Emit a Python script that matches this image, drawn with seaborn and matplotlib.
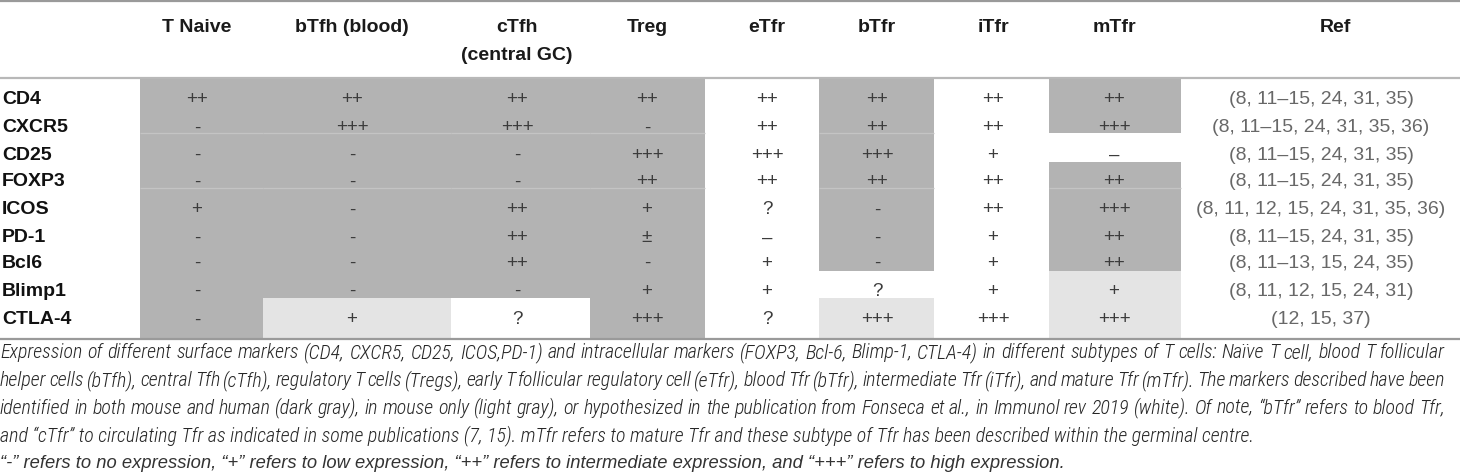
import numpy as np
import pandas as pd
import matplotlib
matplotlib.use("Agg")
import matplotlib.pyplot as plt
import seaborn as sns
from matplotlib import font_manager
from matplotlib.colors import ListedColormap

# ---- data ----
markers = ["CD4", "CXCR5", "CD25", "FOXP3", "ICOS", "PD-1", "Bcl6", "Blimp1", "CTLA-4"]
subsets = ["T Naive", "bTfh (blood)", "cTfh\n(central GC)", "Treg", "eTfr", "bTfr", "iTfr", "mTfr"]

t_naive = ["++", "-", "-", "-", "+", "-", "-", "-", "-"]
btfh = ["++", "+++", "-", "-", "-", "-", "-", "-", "+"]
ctfh = ["++", "+++", "-", "-", "++", "++", "++", "-", "?"]
treg = ["++", "-", "+++", "++", "+", "±", "-", "+", "+++"]
etfr = ["++", "++", "+++", "++", "?", "–", "+", "+", "?"]
btfr = ["++", "++", "+++", "++", "-", "-", "-", "?", "+++"]
itfr = ["++", "++", "+", "++", "++", "+", "+", "+", "+++"]
mtfr = ["++", "+++", "–", "++", "+++", "++", "++", "+", "+++"]

refs = ["(8, 11–15, 24, 31, 35)", "(8, 11–15, 24, 31, 35, 36)", "(8, 11–15, 24, 31, 35)",
        "(8, 11–15, 24, 31, 35)", "(8, 11, 12, 15, 24, 31, 35, 36)", "(8, 11–15, 24, 31, 35)",
        "(8, 11–13, 15, 24, 35)", "(8, 11, 12, 15, 24, 31)", "(12, 15, 37)"]

# evidence: 2 = mouse and human (dark gray), 1 = mouse only (light gray), 0 = hypothesized (white)
ev_t_naive = [2, 2, 2, 2, 2, 2, 2, 2, 2]
ev_btfh = [2, 2, 2, 2, 2, 2, 2, 2, 1]
ev_ctfh = [2, 2, 2, 2, 2, 2, 2, 2, 0]
ev_treg = [2, 2, 2, 2, 2, 2, 2, 2, 2]
ev_etfr = [0, 0, 0, 0, 0, 0, 0, 0, 0]
ev_btfr = [2, 2, 2, 2, 2, 2, 2, 0, 1]
ev_itfr = [0, 0, 0, 0, 0, 0, 0, 0, 0]
ev_mtfr = [2, 2, 0, 2, 2, 2, 2, 1, 1]

caption = [
    "Expression of different surface markers (CD4, CXCR5, CD25, ICOS,PD-1) and intracellular markers (FOXP3, Bcl-6, Blimp-1, CTLA-4) in different subtypes of T cells: Naïve T cell, blood T follicular",
    "helper cells (bTfh), central Tfh (cTfh), regulatory T cells (Tregs), early T follicular regulatory cell (eTfr), blood Tfr (bTfr), intermediate Tfr (iTfr), and mature Tfr (mTfr). The markers described have been",
    "identified in both mouse and human (dark gray), in mouse only (light gray), or hypothesized in the publication from Fonseca et al., in Immunol rev 2019 (white). Of note, “bTfr” refers to blood Tfr,",
    "and “cTfr” to circulating Tfr as indicated in some publications (7, 15). mTfr refers to mature Tfr and these subtype of Tfr has been described within the germinal centre.",
]
legend_note = "“-” refers to no expression, “+” refers to low expression, “++” refers to intermediate expression, and “+++” refers to high expression."

values = [t_naive, btfh, ctfh, treg, etfr, btfr, itfr, mtfr]
evidence = [ev_t_naive, ev_btfh, ev_ctfh, ev_treg, ev_etfr, ev_btfr, ev_itfr, ev_mtfr]

# ---- layout (pixels) ----
W, H = 1460, 475
col_edges = [140, 263, 451, 590, 705, 819, 934, 1049, 1181]
row_edges = [78, 106, 133, 162, 188, 216, 244, 271, 298, 339]
text_x = [197, 352, 517, 647, 767, 877, 993, 1114]
ref_x, ref_head_x = 1321, 1335
row_y = [100, 128, 155, 182, 210, 238, 263, 291, 320]
cap_y = [353, 381, 408, 436, 463]
faint_rows = [2, 4]  # row boundaries with a faint seam in the gray cells

sns.set_style("white")
fonts = {f.name for f in font_manager.fontManager.ttflist}


def pick(*names):
    for n in names:
        if n in fonts:
            return n
    return "DejaVu Sans"


cond = pick("Roboto Condensed", "Liberation Sans Narrow", "Fira Sans Condensed")
plt.rcParams["font.family"] = ["Liberation Sans", "DejaVu Sans"]

fig = plt.figure(figsize=(W / 100, H / 100), dpi=100)

# cell shading through a heatmap, rows/cols repeated to pixel heights/widths
grid = np.array(evidence).T
grid = np.repeat(grid, np.diff(row_edges), axis=0)
grid = np.repeat(grid, np.diff(col_edges), axis=1)
hax = fig.add_axes([col_edges[0] / W, 1 - row_edges[-1] / H,
                    (col_edges[-1] - col_edges[0]) / W, (row_edges[-1] - row_edges[0]) / H])
sns.heatmap(pd.DataFrame(grid), ax=hax, cmap=ListedColormap(["#ffffff", "#e4e4e4", "#b3b3b3"]),
            vmin=-0.5, vmax=2.5, cbar=False, xticklabels=False, yticklabels=False)
hax.axis("off")

ax = fig.add_axes([0, 0, 1, 1], zorder=2)
ax.set_xlim(0, W)
ax.set_ylim(H, 0)
ax.axis("off")
ax.patch.set_alpha(0)

for y, c in [(1, "#9a9a9a"), (row_edges[0], "#b8b8b8"), (row_edges[-1], "#9a9a9a")]:
    ax.hlines(y, 0, W, color=c, lw=1.6)

# faint seams inside the dark gray blocks
for r in faint_rows:
    for j, ev in enumerate(evidence):
        if ev[r - 1] == 2 and ev[r] == 2:
            ax.hlines(row_edges[r], col_edges[j], col_edges[j + 1], color="#c4c4c4", lw=0.9)

# header
for x, name in zip(text_x, subsets):
    for i, part in enumerate(name.split("\n")):
        ax.text(x, 27 + 28 * i, part, ha="center", va="center", fontsize=14,
                fontweight="bold", color="#1a1a1a")
ax.text(ref_head_x, 27, "Ref", ha="center", va="center", fontsize=14,
        fontweight="bold", color="#1a1a1a")

# body
for y, m in zip(row_y, markers):
    ax.text(2, y, m, ha="left", va="center", fontsize=14, fontweight="bold", color="#111111")
for x, col in zip(text_x, values):
    for y, v in zip(row_y, col):
        ax.text(x, y, v, ha="center", va="center", fontsize=13.5, color="#3c3c3c")
for y, r in zip(row_y, refs):
    ax.text(ref_x, y, r, ha="center", va="center", fontsize=14, color="#686868")

# caption: size fitted to the table width, first three lines justified
fig.canvas.draw()
renderer = fig.canvas.get_renderer()
cap_kw = dict(style="italic", family=cond, fontweight="light", color="#262626",
              ha="left", va="center")
probe = ax.text(0, 0, caption[0], fontsize=14, **cap_kw)
cap_size = 14 * 1445 / probe.get_window_extent(renderer).width
probe.remove()

for i, line in enumerate(caption):
    if i < 3:
        words = line.split(" ")
        texts = [ax.text(0, cap_y[i], w, fontsize=cap_size, **cap_kw) for w in words]
        widths = [t.get_window_extent(renderer).width for t in texts]
        gap = (1445 - sum(widths)) / (len(words) - 1)
        x = 0
        for t, w in zip(texts, widths):
            t.set_x(x)
            x += w + gap
    else:
        ax.text(0, cap_y[i], line, fontsize=cap_size, **cap_kw)

note_kw = dict(style="italic", family="Liberation Sans", color="#333333", ha="left", va="center")
probe = ax.text(0, 0, legend_note, fontsize=cap_size, **note_kw)
note_size = min(cap_size * 1056 / probe.get_window_extent(renderer).width, cap_size * 1.1)
probe.remove()
ax.text(0, cap_y[4], legend_note, fontsize=note_size, **note_kw)

fig.savefig("out.png", dpi=100)
